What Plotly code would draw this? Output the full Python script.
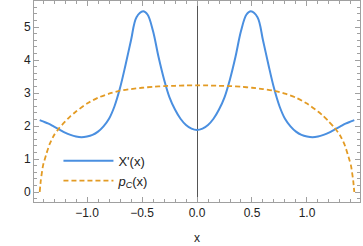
import plotly.graph_objects as go

# Blue curve X'(x)
x_blue = [-1.43, -1.4, -1.35, -1.3, -1.25, -1.2, -1.15, -1.1, -1.05, -1.0, -0.95, -0.9, -0.85, -0.8,
          -0.75, -0.7, -0.65, -0.6, -0.55, -0.49, -0.45, -0.4, -0.35, -0.3, -0.25, -0.2, -0.15, -0.1,
          -0.05, 0.0, 0.05, 0.1, 0.15, 0.2, 0.25, 0.3, 0.35, 0.4, 0.45, 0.49, 0.55, 0.6, 0.65, 0.7,
          0.75, 0.8, 0.85, 0.9, 0.95, 1.0, 1.05, 1.1, 1.15, 1.2, 1.25, 1.3, 1.35, 1.4, 1.43]
y_blue = [2.18, 2.14, 2.07, 1.98, 1.89, 1.8, 1.73, 1.68, 1.66, 1.68, 1.73, 1.83, 1.99, 2.22,
          2.6, 3.15, 3.85, 4.6, 5.3, 5.48, 5.38, 4.88, 4.1, 3.42, 2.87, 2.5, 2.22, 2.03,
          1.92, 1.88, 1.92, 2.03, 2.22, 2.5, 2.87, 3.42, 4.1, 4.88, 5.38, 5.48, 5.3, 4.6, 3.85, 3.15,
          2.6, 2.22, 1.99, 1.83, 1.73, 1.68, 1.66, 1.68, 1.73, 1.8, 1.89, 1.98, 2.07, 2.14, 2.18]

# Orange dashed curve p_C(x)
x_orange = [-1.43, -1.42, -1.4, -1.37, -1.34, -1.3, -1.25, -1.2, -1.15, -1.1, -1.0, -0.9, -0.8,
            -0.7, -0.6, -0.5, -0.4, -0.3, -0.2, -0.1, 0.0, 0.1, 0.2, 0.3, 0.4, 0.5, 0.6, 0.7,
            0.8, 0.9, 1.0, 1.1, 1.15, 1.2, 1.25, 1.3, 1.34, 1.37, 1.4, 1.42, 1.43]
y_orange = [0.0, 0.35, 0.8, 1.15, 1.45, 1.72, 1.95, 2.13, 2.3, 2.44, 2.68, 2.86, 2.98,
            3.07, 3.12, 3.16, 3.19, 3.21, 3.22, 3.23, 3.23, 3.23, 3.22, 3.21, 3.19, 3.16, 3.12, 3.07,
            2.98, 2.86, 2.68, 2.44, 2.3, 2.13, 1.95, 1.72, 1.45, 1.15, 0.8, 0.35, 0.0]

x_ticks = [-1.0, -0.5, 0.0, 0.5, 1.0]
y_ticks = [0, 1, 2, 3, 4, 5]

FONT = "Liberation Sans, Arial, sans-serif"
FRAME = "#a0a0a0"

fig = go.Figure()
fig.add_trace(go.Scatter(x=x_blue, y=y_blue, mode="lines", name="X'(x)",
                         line=dict(color="#4a8fe0", width=2, shape="spline", smoothing=1.0)))
fig.add_trace(go.Scatter(x=x_orange, y=y_orange, mode="lines", name="<i>p<sub>C</sub></i>(x)",
                         line=dict(color="#e39b24", width=1.8, dash="5px,3px", shape="spline", smoothing=0.6)))

axis_common = dict(showline=True, linecolor=FRAME, linewidth=1, mirror="ticks",
                   ticks="inside", ticklen=5, tickcolor=FRAME, tickwidth=1,
                   showgrid=False, tickfont=dict(family=FONT, size=12, color="#222"))

fig.update_xaxes(range=[-1.482, 1.482], tickvals=x_ticks, tickformat=".1f",
                 zeroline=True, zerolinecolor="#555555", zerolinewidth=1,
                 minor=dict(ticks="inside", ticklen=3, tickcolor=FRAME, dtick=0.1, tick0=0, showgrid=False),
                 title=dict(text="x", font=dict(family=FONT, size=12, color="#222"), standoff=14),
                 **axis_common)
fig.update_yaxes(range=[-0.303, 5.79], tickvals=y_ticks, zeroline=False,
                 minor=dict(ticks="inside", ticklen=3, tickcolor=FRAME, dtick=0.2, tick0=0, showgrid=False),
                 **axis_common)

fig.update_layout(
    width=363, height=246,
    margin=dict(l=34, r=3, t=1, b=44),
    plot_bgcolor="white", paper_bgcolor="white",
    font=dict(family=FONT, size=12, color="#222"),
    legend=dict(x=0.075, y=0.28, xanchor="left", yanchor="top",
                bgcolor="rgba(0,0,0,0)", font=dict(family=FONT, size=13, color="#222"),
                tracegroupgap=0, itemwidth=50),
    showlegend=True,
)

fig.write_html("out.html", config={"displayModeBar": False},
               post_script="document.body.style.margin='0';document.body.style.padding='0';")
